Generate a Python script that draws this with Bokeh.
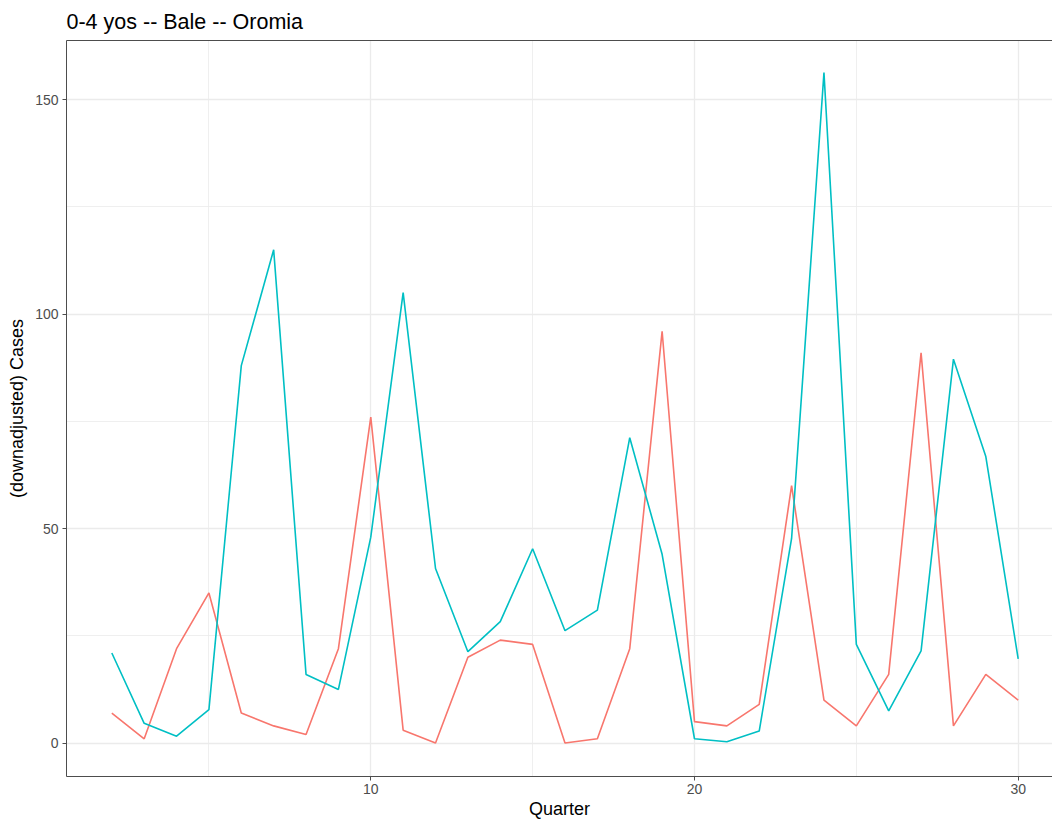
from bokeh.plotting import figure
from bokeh.models import Range1d, LinearAxis, FixedTicker
from bokeh.embed import file_html
from bokeh.resources import INLINE

# ---- data ----
quarter = list(range(2, 31))
series_red = [7, 1, 22, 35, 7, 4, 2, 22, 76, 3, 0, 20, 24, 23, 0, 1, 22, 96,
              5, 4, 9, 60, 10, 4, 16, 91, 4, 16, 10]
series_cyan = [21, 4.6, 1.6, 7.8, 88, 115, 16, 12.5, 48, 105, 40.7, 21.3, 28.3,
               45.3, 26.2, 31, 71.2, 44, 1, 0.3, 2.8, 47.7, 156.3, 23, 7.5,
               21.5, 89.5, 66.8, 19.6]
x_ticks = [10, 20, 30]
x_minor = [5, 15, 25]
y_ticks = [0, 50, 100, 150]
y_minor = [25, 75, 125]

title_text = "0-4 yos -- Bale -- Oromia"
x_label = "Quarter"
y_label = "(downadjusted) Cases"

FONT = "Liberation Sans"
BORDER = "#4d4d4d"

p = figure(width=1052, height=823, output_backend="svg", toolbar_location=None,
           x_range=Range1d(0.6, 31.06), y_range=Range1d(-7.8, 163.8),
           min_border_left=66, min_border_right=0, min_border_top=40,
           min_border_bottom=47, title=title_text)

p.outline_line_color = None
p.background_fill_color = "white"
p.border_fill_color = "white"

# title
p.title.text_font = FONT
p.title.text_font_size = "21.5px"
p.title.text_font_style = "normal"
p.title.text_color = "#000000"
p.title.align = "left"
p.title.standoff = 14

# grids
p.xgrid.ticker = FixedTicker(ticks=x_ticks, minor_ticks=x_minor)
p.ygrid.ticker = FixedTicker(ticks=y_ticks, minor_ticks=y_minor)
for g in (p.xgrid, p.ygrid):
    g.grid_line_color = "#ebebeb"
    g.grid_line_width = 1.3
    g.minor_grid_line_color = "#ebebeb"
    g.minor_grid_line_width = 0.8

# axes
for ax in (p.xaxis, p.yaxis):
    ax.axis_line_color = BORDER
    ax.axis_line_width = 1
    ax.major_tick_line_color = BORDER
    ax.major_tick_out = 4
    ax.major_tick_in = 0
    ax.minor_tick_line_color = None
    ax.major_label_text_font = FONT
    ax.major_label_text_font_size = "14px"
    ax.major_label_text_color = "#4d4d4d"
    ax.axis_label_text_font = FONT
    ax.axis_label_text_font_size = "18px"
    ax.axis_label_text_font_style = "normal"
    ax.axis_label_text_color = "#000000"

p.xaxis.major_label_standoff = 3
p.xaxis.axis_label_standoff = 2
p.yaxis.major_label_standoff = 4
p.yaxis.axis_label_standoff = 5

p.xaxis.ticker = FixedTicker(ticks=x_ticks)
p.yaxis.ticker = FixedTicker(ticks=y_ticks)
p.xaxis.axis_label = x_label
p.yaxis.axis_label = y_label

# top border as a bare axis
top = LinearAxis(ticker=FixedTicker(ticks=[]), axis_line_color=BORDER,
                 axis_line_width=1, major_tick_line_color=None,
                 minor_tick_line_color=None, major_label_text_font_size="0px")
p.add_layout(top, "above")

p.line(quarter, series_red, line_color="#F8766D", line_width=1.6)
p.line(quarter, series_cyan, line_color="#00BFC4", line_width=1.6)

open("out.html", "w").write(file_html(p, INLINE))
